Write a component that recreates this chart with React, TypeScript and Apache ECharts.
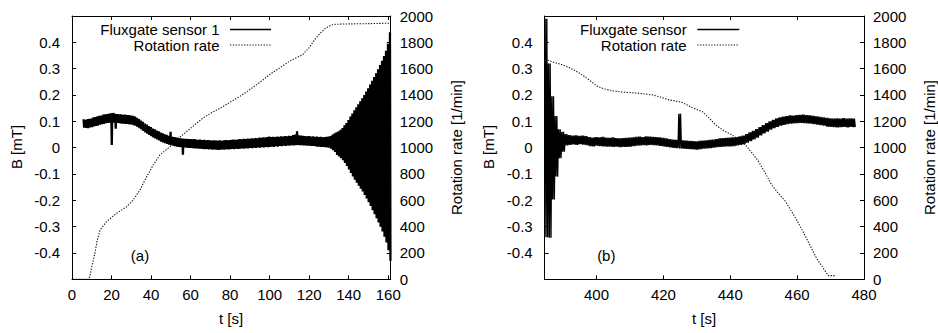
import React, { useEffect, useRef } from "react";
import * as echarts from "echarts";

const FONT = "'Liberation Sans', Arial, Helvetica, sans-serif";

// tick labels
const xTicksA = [0, 20, 40, 60, 80, 100, 120, 140, 160];
const xTicksB = [400, 420, 440, 460, 480];
const bTicks = [-0.4, -0.3, -0.2, -0.1, 0, 0.1, 0.2, 0.3, 0.4];

// (a) Fluxgate sensor 1: upper / lower edge of the trace, one pair per second from t = 6 s
const startA = 6;
const hiA = [
  0.108, 0.106, 0.109, 0.110, 0.111, 0.115, 0.116, 0.119, 0.121, 0.122,
  0.126, 0.127, 0.128, 0.130, 0.131, 0.132, 0.129, 0.128, 0.127, 0.127,
  0.125, 0.126, 0.124, 0.124, 0.122, 0.121, 0.118, 0.113, 0.109, 0.103,
  0.098, 0.092, 0.088, 0.082, 0.078, 0.073, 0.070, 0.065, 0.062, 0.057,
  0.055, 0.051, 0.049, 0.045, 0.060, 0.041, 0.040, 0.038, 0.037, 0.036,
  0.035, 0.034, 0.034, 0.033, 0.033, 0.032, 0.033, 0.031, 0.030, 0.031,
  0.029, 0.030, 0.028, 0.029, 0.028, 0.027, 0.028, 0.027, 0.027, 0.028,
  0.026, 0.028, 0.029, 0.028, 0.029, 0.030, 0.031, 0.030, 0.031, 0.033,
  0.032, 0.034, 0.033, 0.035, 0.034, 0.036, 0.035, 0.037, 0.036, 0.038,
  0.037, 0.039, 0.038, 0.040, 0.042, 0.040, 0.041, 0.040, 0.042, 0.041,
  0.043, 0.042, 0.044, 0.043, 0.045, 0.044, 0.048, 0.050, 0.062, 0.047,
  0.046, 0.045, 0.044, 0.043, 0.044, 0.042, 0.043, 0.041, 0.042, 0.040,
  0.041, 0.039, 0.040, 0.041, 0.042, 0.044, 0.050, 0.055, 0.058, 0.062,
  0.068, 0.075, 0.085, 0.094, 0.105, 0.118, 0.130, 0.142, 0.153, 0.165,
  0.176, 0.188, 0.200, 0.213, 0.226, 0.240, 0.254, 0.268, 0.283, 0.298,
  0.314, 0.330, 0.348, 0.368, 0.395, 0.438,
];
const loA = [
  0.076, 0.075, 0.074, 0.077, 0.078, 0.080, 0.082, 0.083, 0.087, 0.089,
  0.090, 0.093, 0.094, 0.095, 0.010, 0.095, 0.072, 0.094, 0.093, 0.091,
  0.091, 0.090, 0.090, 0.088, 0.088, 0.085, 0.083, 0.079, 0.074, 0.069,
  0.063, 0.058, 0.053, 0.048, 0.043, 0.039, 0.035, 0.031, 0.027, 0.023,
  0.020, 0.017, 0.014, 0.011, 0.009, 0.007, 0.005, 0.004, 0.003, 0.002,
  -0.027, 0.001, 0.000, -0.001, -0.001, -0.002, -0.003, -0.003, -0.004, -0.004,
  -0.005, -0.006, -0.005, -0.007, -0.006, -0.008, -0.007, -0.008, -0.009, -0.008,
  -0.007, -0.008, -0.006, -0.007, -0.006, -0.005, -0.006, -0.004, -0.005, -0.004,
  -0.003, -0.004, -0.002, -0.003, -0.001, -0.002, 0.000, -0.001, 0.001, 0.000,
  0.002, 0.001, 0.003, 0.002, 0.003, 0.004, 0.003, 0.005, 0.004, 0.006,
  0.005, 0.007, 0.006, 0.008, 0.007, 0.009, 0.008, 0.009, 0.010, 0.009,
  0.009, 0.008, 0.008, 0.007, 0.007, 0.006, 0.006, 0.005, 0.004, 0.004,
  0.003, 0.003, 0.002, 0.001, 0.000, -0.004, -0.010, -0.016, -0.028, -0.034,
  -0.040, -0.048, -0.058, -0.070, -0.083, -0.096, -0.110, -0.122, -0.133, -0.145,
  -0.156, -0.167, -0.180, -0.193, -0.207, -0.222, -0.238, -0.253, -0.268, -0.284,
  -0.300, -0.318, -0.338, -0.360, -0.390, -0.430,
];

// (b) Fluxgate sensor: upper / lower edge, one pair per second from t = 385 s
const startB = 385;
const hiB = [
  0.490, 0.320, 0.195, 0.120, 0.070, 0.060, 0.052, 0.048, 0.046, 0.047,
  0.045, 0.046, 0.044, 0.040, 0.038, 0.040, 0.039, 0.041, 0.038, 0.037,
  0.039, 0.036, 0.035, 0.036, 0.037, 0.038, 0.039, 0.041, 0.042, 0.040,
  0.043, 0.042, 0.041, 0.040, 0.039, 0.037, 0.035, 0.033, 0.031, 0.030,
  0.129, 0.028, 0.027, 0.026, 0.025, 0.024, 0.026, 0.027, 0.028, 0.030,
  0.031, 0.033, 0.035, 0.036, 0.037, 0.038, 0.039, 0.040, 0.043, 0.046,
  0.052, 0.058, 0.064, 0.071, 0.078, 0.086, 0.093, 0.100, 0.106, 0.111,
  0.115, 0.118, 0.120, 0.123, 0.122, 0.124, 0.125, 0.126, 0.124, 0.123,
  0.121, 0.119, 0.117, 0.115, 0.113, 0.111, 0.110, 0.111, 0.110, 0.112,
  0.110, 0.111, 0.110,
];
const loB = [
  -0.340, -0.342, -0.197, -0.110, -0.040, -0.015, 0.008, 0.010, 0.012, 0.010,
  0.013, 0.011, 0.009, 0.006, 0.005, 0.007, 0.006, 0.005, 0.004, 0.004,
  0.003, 0.004, 0.002, 0.003, 0.003, 0.004, 0.006, 0.007, 0.008, 0.009,
  0.008, 0.010, 0.009, 0.008, 0.007, 0.005, 0.003, 0.001, -0.001, -0.002,
  -0.003, -0.004, -0.005, -0.006, -0.007, -0.008, -0.006, -0.004, -0.003, -0.002,
  0.000, 0.002, 0.003, 0.004, 0.005, 0.005, 0.006, 0.008, 0.010, 0.013,
  0.019, 0.025, 0.031, 0.038, 0.046, 0.054, 0.061, 0.068, 0.074, 0.079,
  0.083, 0.086, 0.089, 0.091, 0.092, 0.093, 0.094, 0.093, 0.092, 0.091,
  0.089, 0.087, 0.085, 0.083, 0.080, 0.079, 0.078, 0.077, 0.078, 0.079,
  0.077, 0.079, 0.078,
];

// Rotation rate [1/min]
const rateA: [number, number][] = [
  [0.5, 0], [4, 0], [8.2, 0], [9, 20], [10, 96], [11.6, 198], [12.8, 299], [14.2, 375],
  [17.5, 438], [20, 470], [22.6, 501], [27.7, 552], [31, 603], [34.4, 679], [37.8, 780],
  [41.1, 868], [44.5, 945], [49.6, 1008], [53, 1060], [56.9, 1109], [61, 1160], [66.1, 1223],
  [70, 1260], [75, 1300], [80.4, 1349], [85, 1390], [89.7, 1438], [95, 1495], [99.7, 1552],
  [105, 1605], [109.8, 1654], [113, 1680], [116.5, 1704], [120, 1760], [123.3, 1831],
  [126, 1875], [128.3, 1907], [131, 1930], [133.3, 1937], [140, 1940], [150, 1942],
  [159.4, 1945], [161, 1945],
];
const rateB: [number, number][] = [
  [384.6, 1672], [387, 1650], [390, 1628], [392.5, 1600], [395, 1565], [397.5, 1520],
  [400.4, 1464], [402.5, 1445], [404.9, 1431], [408, 1422], [412.8, 1413], [416.8, 1400],
  [419, 1385], [421.7, 1363], [425.5, 1345], [428.5, 1305], [431.6, 1274], [433.5, 1230],
  [435.6, 1173], [438, 1130], [440.5, 1097], [442.5, 1060], [444.5, 1021], [446.5, 960],
  [448.5, 894], [450.5, 805], [452.4, 717], [454.5, 650], [456.4, 595], [458.5, 510],
  [460.4, 426], [462, 350], [463.3, 286], [465.8, 160], [468.2, 70], [469.3, 28],
  [471.7, 28],
];

// trace between the read upper and lower edges, swinging twice per second
function trace(start: number, hi: number[], lo: number[]) {
  const out: [number, number][] = [];
  for (let i = 0; i < hi.length; i++) {
    const t = start + i;
    out.push([t - 0.375, hi[i]]);
    out.push([t - 0.125, lo[i]]);
    out.push([t + 0.125, hi[i]]);
    out.push([t + 0.375, lo[i]]);
  }
  return out;
}

const labelStyle = { color: "#000", fontSize: 15, fontFamily: FONT };
const axisLine = { show: true, onZero: false, lineStyle: { color: "#000", width: 1 } };
const plain = (v: number) => String(v);

function xAxes(grid: number, min: number, max: number, ticks: number[]) {
  return [
    {
      type: "value", gridIndex: grid, min, max, position: "bottom",
      axisLine,
      axisTick: { show: true, inside: true, length: 4, customValues: ticks, lineStyle: { color: "#000" } },
      axisLabel: { ...labelStyle, margin: 8, customValues: ticks, formatter: plain },
      splitLine: { show: false },
    },
    {
      type: "value", gridIndex: grid, min, max, position: "top",
      axisLine,
      axisTick: { show: true, inside: true, length: 4, customValues: ticks, lineStyle: { color: "#000" } },
      axisLabel: { show: false },
      splitLine: { show: false },
    },
  ];
}

function yAxes(grid: number, leftMargin: number, rightMargin: number) {
  return [
    {
      type: "value", gridIndex: grid, min: -0.5, max: 0.5, position: "left",
      axisLine,
      axisTick: { show: true, inside: true, length: 4, customValues: bTicks, lineStyle: { color: "#000" } },
      axisLabel: { ...labelStyle, margin: leftMargin, customValues: bTicks, formatter: plain },
      splitLine: { show: false },
    },
    {
      type: "value", gridIndex: grid, min: 0, max: 2000, interval: 200, position: "right",
      axisLine,
      axisTick: { show: true, inside: true, length: 4, lineStyle: { color: "#000" } },
      axisLabel: { ...labelStyle, margin: rightMargin, formatter: plain },
      splitLine: { show: false },
    },
  ];
}

function text(x: number, y: number, s: string, align: string, rotation = 0) {
  return {
    type: "text", x, y, rotation,
    style: { text: s, fill: "#000", fontSize: 15, fontFamily: FONT, align, verticalAlign: "middle" },
  };
}

function legendLine(x1: number, x2: number, y: number, dotted: boolean) {
  return {
    type: "line",
    shape: { x1, y1: y, x2, y2: y },
    style: dotted
      ? { stroke: "#111", lineWidth: 1.1, lineDash: [1.3, 1.5] }
      : { stroke: "#000", lineWidth: 1.3 },
  };
}

const dotted = { color: "#111", width: 1.1, type: [1.3, 1.5] };

export default function App() {
  const ref = useRef<HTMLDivElement>(null);
  useEffect(() => {
    if (!ref.current) return;
    const chart = echarts.init(ref.current, undefined, { renderer: "svg" });
    const gridA = { left: 72, top: 16, width: 318.7, height: 263.3, outerBoundsMode: "none" };
    const gridB = { left: 544.7, top: 16, width: 319.3, height: 263.3, outerBoundsMode: "none" };
    chart.setOption({
      animation: false,
      backgroundColor: "#fff",
      grid: [gridA, gridB],
      xAxis: [...xAxes(0, 0, 161.25, xTicksA), ...xAxes(1, 384.5, 480, xTicksB)],
      yAxis: [...yAxes(0, 12, 9), ...yAxes(1, 12, 9)],
      series: [
        {
          name: "Fluxgate sensor 1", type: "line", xAxisIndex: 0, yAxisIndex: 0,
          data: trace(startA, hiA, loA), symbol: "none", clip: true,
          lineStyle: { color: "#000", width: 1.3 },
        },
        {
          name: "Rotation rate", type: "line", xAxisIndex: 0, yAxisIndex: 1,
          data: rateA, symbol: "none", clip: true,
          lineStyle: dotted,
        },
        {
          name: "Fluxgate sensor", type: "line", xAxisIndex: 2, yAxisIndex: 2,
          data: trace(startB, hiB, loB), symbol: "none", clip: true,
          lineStyle: { color: "#000", width: 1.4 },
        },
        {
          name: "Rotation rate", type: "line", xAxisIndex: 2, yAxisIndex: 3,
          data: rateB, symbol: "none", clip: true,
          lineStyle: dotted,
        },
      ],
      graphic: [
        // axis titles
        text(16, 147, "B [mT]", "center", Math.PI / 2),
        text(456.5, 147.5, "Rotation rate [1/min]", "center", Math.PI / 2),
        text(231, 318, "t [s]", "center"),
        text(488, 147, "B [mT]", "center", Math.PI / 2),
        text(929.5, 147.5, "Rotation rate [1/min]", "center", Math.PI / 2),
        text(704, 318, "t [s]", "center"),
        // panel labels
        text(140, 255.5, "(a)", "center"),
        text(606.3, 255.5, "(b)", "center"),
        // legends
        text(219.5, 29.5, "Fluxgate sensor 1", "right"),
        legendLine(230, 271, 29.5, false),
        text(219.5, 45, "Rotation rate", "right"),
        legendLine(230, 271, 45, true),
        text(686.7, 29.5, "Fluxgate sensor", "right"),
        legendLine(697.3, 739.3, 29.5, false),
        text(686.7, 45, "Rotation rate", "right"),
        legendLine(697.3, 739.3, 45, true),
      ],
    });
    return () => chart.dispose();
  }, []);
  return (
    <div
      ref={ref}
      style={{ position: "absolute", left: 0, top: 0, width: 938, height: 333, background: "#fff" }}
    />
  );
}
